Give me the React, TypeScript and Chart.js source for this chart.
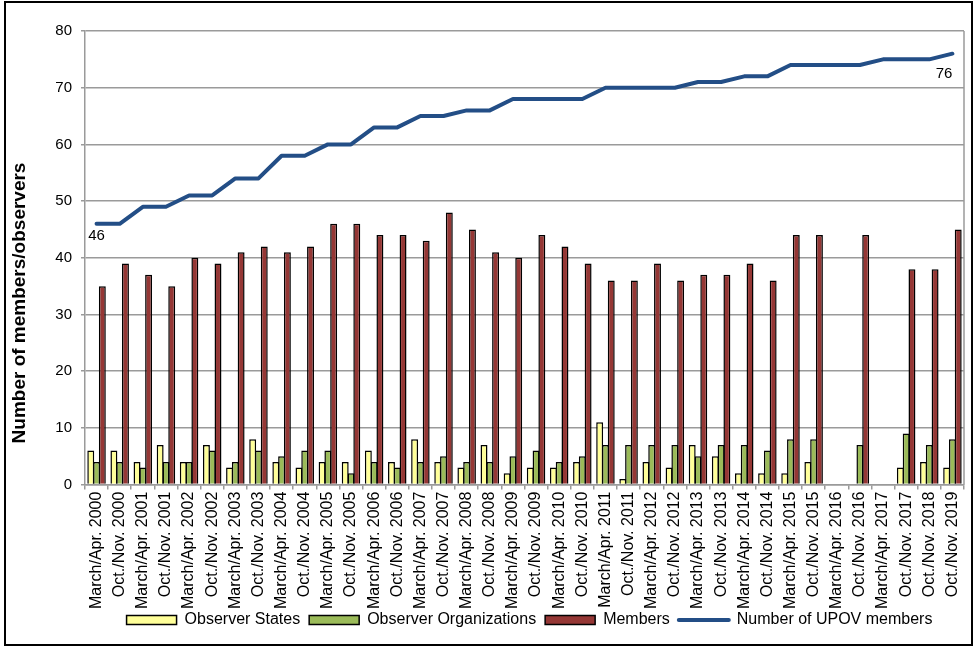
import React, { useEffect, useRef } from 'react';
import { Chart, registerables } from 'chart.js';

Chart.register(...registerables);

const categories = [
  'March/Apr. 2000', 'Oct./Nov. 2000',
  'March/Apr. 2001', 'Oct./Nov. 2001',
  'March/Apr. 2002', 'Oct./Nov. 2002',
  'March/Apr. 2003', 'Oct./Nov. 2003',
  'March/Apr. 2004', 'Oct./Nov. 2004',
  'March/Apr. 2005', 'Oct./Nov. 2005',
  'March/Apr. 2006', 'Oct./Nov. 2006',
  'March/Apr. 2007', 'Oct./Nov. 2007',
  'March/Apr. 2008', 'Oct./Nov. 2008',
  'March/Apr. 2009', 'Oct./Nov. 2009',
  'March/Apr. 2010', 'Oct./Nov. 2010',
  'March/Apr. 2011', 'Oct./Nov. 2011',
  'March/Apr. 2012', 'Oct./Nov. 2012',
  'March/Apr. 2013', 'Oct./Nov. 2013',
  'March/Apr. 2014', 'Oct./Nov. 2014',
  'March/Apr. 2015', 'Oct./Nov. 2015',
  'March/Apr. 2016', 'Oct./Nov. 2016',
  'March/Apr. 2017', 'Oct./Nov. 2017',
  'Oct./Nov. 2018', 'Oct./Nov. 2019',
];

const observerStates = [
  6, 6, 4, 7, 4, 7, 3, 8, 4, 3,
  4, 4, 6, 4, 8, 4, 3, 7, 2, 3,
  3, 4, 11, 1, 4, 3, 7, 5, 2, 2,
  2, 4, null, null, null, 3, 4, 3,
];

const observerOrganizations = [
  4, 4, 3, 4, 4, 6, 4, 6, 5, 6,
  6, 2, 4, 3, 4, 5, 4, 4, 5, 6,
  4, 5, 7, 7, 7, 7, 5, 7, 7, 6,
  8, 8, null, 7, null, 9, 7, 8,
];

const members = [
  35, 39, 37, 35, 40, 39, 41, 42, 41, 42,
  46, 46, 44, 44, 43, 48, 45, 41, 40, 44,
  42, 39, 36, 36, 39, 36, 37, 37, 39, 36,
  44, 44, null, 44, null, 38, 38, 45,
];

const upovMembers = [
  46, 46, 49, 49, 51, 51, 54, 54, 58, 58,
  60, 60, 63, 63, 65, 65, 66, 66, 68, 68,
  68, 68, 70, 70, 70, 70, 71, 71, 72, 72,
  74, 74, 74, 74, 75, 75, 75, 76,
];

const yMin = 0;
const yMax = 80;
const yStep = 10;

const seriesLabels = ['Observer States', 'Observer Organizations', 'Members', 'Number of UPOV members'];
const yTitle = 'Number of members/observers';

const FONT = "'Liberation Sans', Arial, sans-serif";
const GRID = '#9a9a9a';
const YELLOW = '#FFFF99';
const GREEN = '#9BBB59';
const RED = '#953735';
const BLUE = '#234E86';

const annotatePlugin = {
  id: 'annotate',
  afterLayout(chart: any) {
    const lg = chart.legend;
    if (lg) {
      lg.top -= 8;
      lg.bottom -= 8;
      lg.left += 5;
      lg.right += 5;
    }
  },
  beforeDatasetsDraw(chart: any) {
    const { ctx, chartArea } = chart;
    ctx.save();
    ctx.strokeStyle = GRID;
    ctx.lineWidth = 1.5;
    ctx.beginPath();
    ctx.moveTo(chartArea.right, chartArea.top);
    ctx.lineTo(chartArea.right, chartArea.bottom);
    ctx.stroke();
    ctx.restore();
  },
  afterDatasetsDraw(chart: any) {
    const { ctx } = chart;
    const meta = chart.getDatasetMeta(3);
    const first = meta.data[0];
    const last = meta.data[meta.data.length - 1];
    ctx.save();
    ctx.font = `15px ${FONT}`;
    ctx.fillStyle = '#000';
    ctx.textBaseline = 'middle';
    ctx.textAlign = 'center';
    ctx.fillText(String(upovMembers[0]), first.x, first.y + 12);
    ctx.textAlign = 'right';
    ctx.fillText(String(upovMembers[upovMembers.length - 1]), last.x, last.y + 20);
    ctx.restore();
  },
  afterDraw(chart: any) {
    const { ctx } = chart;
    ctx.save();
    ctx.translate(20, 303);
    ctx.rotate(-Math.PI / 2);
    ctx.font = `bold 19px ${FONT}`;
    ctx.fillStyle = '#000';
    ctx.textAlign = 'center';
    ctx.textBaseline = 'middle';
    ctx.fillText(yTitle, 0, 0);
    ctx.restore();
  },
};

export default function App() {
  const canvasRef = useRef<HTMLCanvasElement | null>(null);

  useEffect(() => {
    const canvas = canvasRef.current;
    if (!canvas) return;
    Chart.defaults.font.family = FONT;
    Chart.defaults.color = '#000';

    const barCommon = {
      type: 'bar' as const,
      borderColor: '#000',
      borderWidth: 1.5,
      categoryPercentage: 0.75,
      barPercentage: 1.2,
    };

    const chart = new Chart(canvas, {
      type: 'bar',
      data: {
        labels: categories,
        datasets: [
          { ...barCommon, label: seriesLabels[0], data: observerStates, backgroundColor: YELLOW },
          { ...barCommon, label: seriesLabels[1], data: observerOrganizations, backgroundColor: GREEN },
          { ...barCommon, label: seriesLabels[2], data: members, backgroundColor: RED },
          {
            type: 'line',
            label: seriesLabels[3],
            data: upovMembers,
            borderColor: BLUE,
            backgroundColor: BLUE,
            borderWidth: 4,
            pointRadius: 0,
            pointHoverRadius: 0,
            borderCapStyle: 'round',
            borderJoinStyle: 'round',
            fill: false,
            tension: 0,
            order: -1,
          } as any,
        ],
      },
      options: {
        responsive: false,
        animation: false,
        devicePixelRatio: 1,
        layout: { padding: { left: 46.3, right: 10, top: 31, bottom: 1 } },
        plugins: {
          tooltip: { enabled: false },
          legend: {
            position: 'bottom',
            fullSize: false,
            labels: {
              usePointStyle: true,
              pointStyleWidth: 50,
              boxHeight: 9,
              padding: 9,
              color: '#000',
              font: { size: 16, family: FONT },
              generateLabels: (c: any) =>
                c.data.datasets.map((ds: any, i: number) => {
                  const isLine = ds.type === 'line';
                  return {
                    text: ds.label,
                    datasetIndex: i,
                    fillStyle: isLine ? BLUE : ds.backgroundColor,
                    strokeStyle: isLine ? BLUE : '#000',
                    lineWidth: isLine ? 4 : 1.5,
                    lineCap: isLine ? 'round' : 'butt',
                    pointStyle: isLine ? 'line' : 'rect',
                    hidden: false,
                    fontColor: '#000',
                  };
                }),
            },
          },
        },
        scales: {
          x: {
            offset: true,
            grid: {
              offset: true,
              drawOnChartArea: false,
              drawTicks: true,
              tickLength: 5,
              color: GRID,
              lineWidth: 1.5,
            },
            border: { display: true, color: GRID, width: 1.5 },
            ticks: {
              autoSkip: false,
              maxRotation: 90,
              minRotation: 90,
              padding: 2,
              color: '#000',
              font: { size: 16, family: FONT },
            },
          },
          y: {
            min: yMin,
            max: yMax,
            ticks: {
              stepSize: yStep,
              padding: 9,
              color: '#000',
              font: { size: 15, family: FONT },
            },
            grid: { color: GRID, lineWidth: 1.5, tickLength: 4 },
            border: { display: true, color: GRID, width: 1.5 },
          },
        },
      },
      plugins: [annotatePlugin],
    });

    return () => chart.destroy();
  }, []);

  return (
    <div style={{ position: 'fixed', left: 0, top: 0, width: 974, height: 647, background: '#fff' }}>
      <canvas ref={canvasRef} width={974} height={647} style={{ display: 'block', width: 974, height: 647 }} />
      <div
        style={{
          position: 'absolute',
          left: 4,
          top: 1,
          width: 969,
          height: 645,
          border: '2px solid #000',
          boxSizing: 'border-box',
          pointerEvents: 'none',
        }}
      />
    </div>
  );
}
